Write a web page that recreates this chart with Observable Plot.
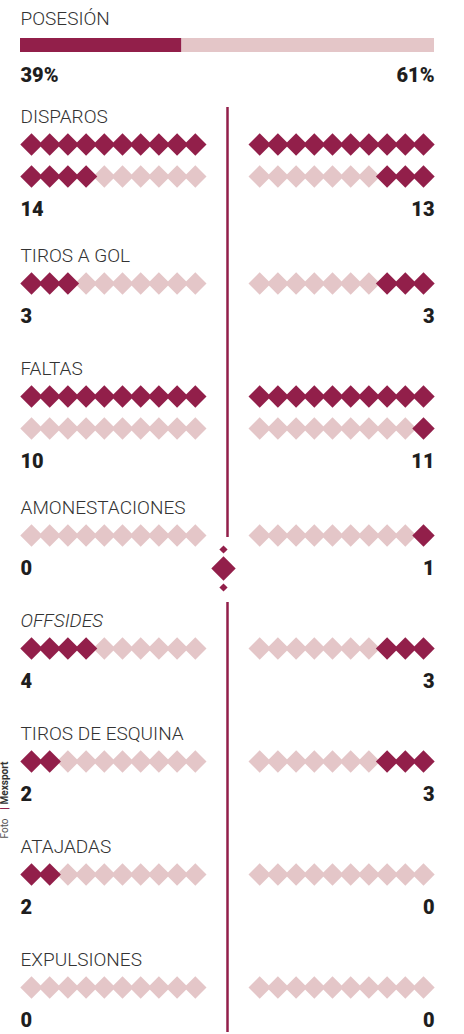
<!DOCTYPE html>
<html>
<head>
<meta charset="utf-8">
<script src="https://cdn.jsdelivr.net/npm/d3@7"></script>
<script src="https://cdn.jsdelivr.net/npm/@observablehq/plot@0.6"></script>
<style>
  html, body { margin: 0; padding: 0; background: #fff; }
  #chart svg { display: block; }
</style>
</head>
<body>
<div id="chart"></div>
<script>
// ---- data ----
const possessionLabel = "POSESIÓN";
const possession = [39, 61];               // home, away (%)
const stats = ["DISPAROS", "TIROS A GOL", "FALTAS", "AMONESTACIONES", "OFFSIDES", "TIROS DE ESQUINA", "ATAJADAS", "EXPULSIONES"];
const home = [14, 3, 10, 0, 4, 2, 2, 0];
const away = [13, 3, 11, 1, 3, 3, 0, 0];
const italicStats = ["OFFSIDES"];
const creditParts = ["Foto", "|", "Mexsport"];

// ---- style / layout ----
const DARK = "#921f4a";
const LIGHT = "#e4c6c8";
const W = 464, H = 1034;
const PER_ROW = 10;
const SLOT = 18.2 / 4.14;     // slot width in % of frame
const EDGE = 11 / 4.14;       // half diamond in %
const LABEL_FONT = "Roboto, 'Open Sans', sans-serif";

// build sections
const sections = [];
let labelBase = 122;
stats.forEach((name, i) => {
  const rows = Math.max(1, Math.ceil(Math.max(home[i], away[i]) / PER_ROW));
  const rowYs = d3.range(rows).map(r => labelBase + 22 + 32 * r);
  const numBase = rowYs[rows - 1] + 39;
  sections.push({name, labelBase, rowYs, numBase, h: home[i], a: away[i]});
  labelBase += 113 + 26 * (rows - 1);
});

// diamonds
const diamonds = [];
sections.forEach(s => {
  s.rowYs.forEach((y, r) => {
    for (let k = 0; k < PER_ROW; k++) {
      const idx = r * PER_ROW + k;
      diamonds.push({x: EDGE + SLOT * k, y, dark: idx < s.h});
      diamonds.push({x: 100 - EDGE - SLOT * k, y, dark: idx < s.a});
    }
  });
});

const labels = sections.map(s => ({name: s.name, y: s.labelBase - 6}));
const numbers = sections.flatMap(s => [
  {v: String(s.h), x: 0, y: s.numBase - 6.4, anchor: "start"},
  {v: String(s.a), x: 100, y: s.numBase - 6.4, anchor: "end"}
]);

const centerLine = [{y1: 107, y2: 537}, {y1: 602, y2: 1032}];
const ornamentSmall = [549, 587];
const ornamentBig = [568];

const chart = Plot.plot({
  width: W, height: H,
  margin: 0,
  x: {domain: [0, 100], range: [20, 434], axis: null},
  y: {domain: [0, H], range: [0, H], axis: null},
  style: {background: "#fff", overflow: "visible"},
  marks: [
    // possession
    Plot.text([possessionLabel], {x: 0, y: 18, text: d => d, textAnchor: "start", fontSize: 19, fontWeight: 300, fill: "#333", fontFamily: LABEL_FONT}),
    Plot.rect([{x1: 0, x2: possession[0]}], {x1: "x1", x2: "x2", y1: 38, y2: 52, fill: DARK}),
    Plot.rect([{x1: possession[0], x2: possession[0] + possession[1]}], {x1: "x1", x2: "x2", y1: 38, y2: 52, fill: LIGHT}),
    Plot.text([possession[0] + "%"], {x: 0, y: 75.5, text: d => d, textAnchor: "start", fontSize: 20, fontWeight: 900, fill: "#1e1e1e", fontFamily: LABEL_FONT}),
    Plot.text([possession[1] + "%"], {x: 100, y: 75.5, text: d => d, textAnchor: "end", fontSize: 20, fontWeight: 900, fill: "#1e1e1e", fontFamily: LABEL_FONT}),

    // center line + ornament
    Plot.ruleX(centerLine, {x: 50, y1: "y1", y2: "y2", stroke: DARK, strokeWidth: 2.5}),
    Plot.dot(ornamentSmall, {x: 50, y: d => d, r: 3.7, symbol: "diamond2", fill: DARK, stroke: null, dx: -4}),
    Plot.dot(ornamentBig, {x: 50, y: d => d, r: 11, symbol: "diamond2", fill: DARK, stroke: null, dx: -4}),

    // stat labels
    Plot.text(labels.filter(d => !italicStats.includes(d.name)), {x: 0, y: "y", text: "name", textAnchor: "start", fontSize: 19, fontWeight: 300, fill: "#333", fontFamily: LABEL_FONT}),
    Plot.text(labels.filter(d => italicStats.includes(d.name)), {x: 0, y: "y", text: "name", textAnchor: "start", fontSize: 19, fontWeight: 300, fontStyle: "italic", fill: "#333", fontFamily: LABEL_FONT}),

    // diamonds (light first, dark on top)
    Plot.dot(diamonds.filter(d => !d.dark), {x: "x", y: "y", r: 10.1, symbol: "diamond2", fill: LIGHT, stroke: null}),
    Plot.dot(diamonds.filter(d => d.dark), {x: "x", y: "y", r: 10.1, symbol: "diamond2", fill: DARK, stroke: null}),

    // numbers
    Plot.text(numbers.filter(d => d.anchor === "start"), {x: "x", y: "y", text: "v", textAnchor: "start", fontSize: 20, fontWeight: 900, fill: "#1e1e1e", fontFamily: LABEL_FONT}),
    Plot.text(numbers.filter(d => d.anchor === "end"), {x: "x", y: "y", text: "v", textAnchor: "end", fontSize: 20, fontWeight: 900, fill: "#1e1e1e", fontFamily: LABEL_FONT}),

    // photo credit (rotated)
    Plot.text([creditParts[0]], {frameAnchor: "left", dx: 4, y: 838, text: d => d, rotate: -90, textAnchor: "start", fontSize: 10, fontWeight: 400, fill: "#555", fontFamily: LABEL_FONT}),
    Plot.text([creditParts[1]], {frameAnchor: "left", dx: 4, y: 808, text: d => d, rotate: -90, textAnchor: "middle", fontSize: 10, fontWeight: 700, fill: DARK, fontFamily: LABEL_FONT}),
    Plot.text([creditParts[2]], {frameAnchor: "left", dx: 4, y: 804, text: d => d, rotate: -90, textAnchor: "start", fontSize: 10, fontWeight: 700, fill: "#333", fontFamily: LABEL_FONT})
  ]
});
document.getElementById("chart").appendChild(chart);
</script>
</body>
</html>
